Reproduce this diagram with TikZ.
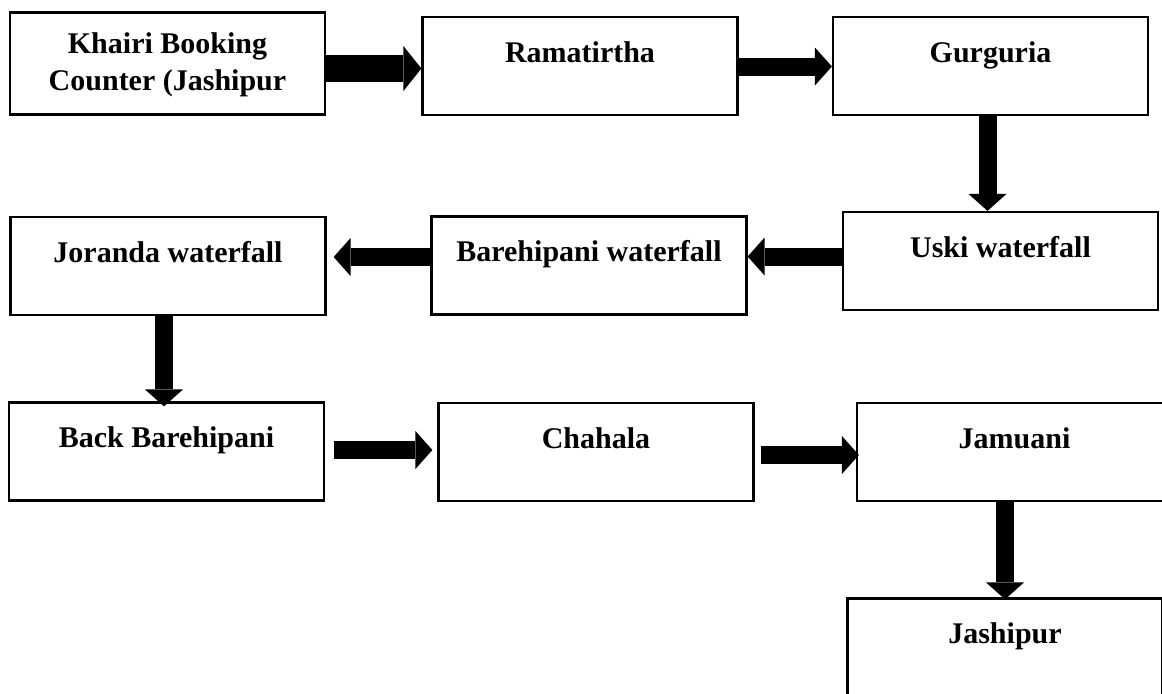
\documentclass[tikz,border=0pt]{standalone}
\usepackage{fontspec}
\setmainfont{Liberation Serif}
\usetikzlibrary{arrows.meta,calc,positioning}

\tikzset{
  place/.style={draw, line width=1.1pt, inner sep=0pt, minimum width=157.5pt, minimum height=49pt,
    text height=22.5pt, text depth=26.5pt, font=\bfseries\fontsize{15}{18.5}\selectfont},
  flow/.style={line width=9pt, -{Triangle[width=19pt,length=8.5pt,line width=0pt]}},
  bigflow/.style={line width=13.5pt, -{Triangle[width=22.5pt,length=9pt,line width=0pt]}}
}

\begin{document}
\begin{tikzpicture}[x=0.5pt,y=-0.5pt]
\useasboundingbox (0,0) rectangle (1162,693);
\clip (0,0) rectangle (1162,693);
% first row
\node[place, minimum height=51pt, text height=20.5pt, text depth=30.5pt] (khairi) at (167.5,63.5)
  {\begin{tabular}[t]{@{}c@{}}Khairi Booking\\Counter (Jashipur\end{tabular}};
\node[place] (ramatirtha) at (580,66) {Ramatirtha};
\node[place] (gurguria) at (990.5,66) {Gurguria};
% second row
\node[place] (uski) at (1000.5,261) {Uski waterfall};
\node[place] (barehipani) at (589,265.5) {Barehipani waterfall};
\node[place] (joranda) at (168,266) {Joranda waterfall};
% third row
\node[place] (back) at (166.5,451.5) {Back Barehipani};
\node[place] (chahala) at (596,452) {Chahala};
\node[place] (jamuani) at (1014.5,452) {Jamuani};
\node[place] (jashipur) at (1005,647.5) {Jashipur};
% arrows
\draw[bigflow] (khairi.east |- 0,68.5) -- (ramatirtha.west |- 0,68.5);
\draw[flow] (ramatirtha.east |- 0,66.5) -- (gurguria.west |- 0,66.5);
\draw[flow] (gurguria.south -| 987.5,0) -- (uski.north -| 987.5,0);
\draw[flow] (uski.west |- 0,256.5) -- (barehipani.east |- 0,256.5);
\draw[flow] (barehipani.west |- 0,257) -- ($(joranda.east |- 0,257)+(7,0)$);
\draw[flow] (joranda.south -| 164,0) -- ($(back.north -| 164,0)+(0,5)$);
\draw[flow] ($(back.east |- 0,450)+(9,0)$) -- ($(chahala.west |- 0,450)+(-5,0)$);
\draw[flow] ($(chahala.east |- 0,455)+(6,0)$) -- ($(jamuani.west |- 0,455)+(3,0)$);
\draw[flow] (jamuani.south -| 1005,0) -- ($(jashipur.north -| 1005,0)+(0,2)$);
\end{tikzpicture}
\end{document}
